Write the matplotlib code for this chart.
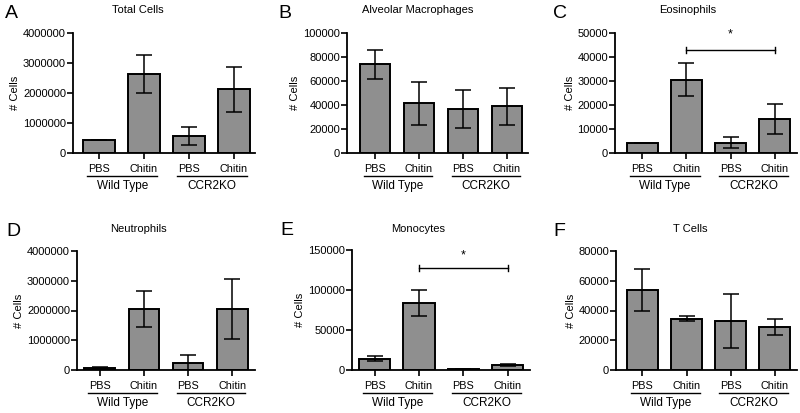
import numpy as np
import matplotlib
matplotlib.use('Agg')
import matplotlib.pyplot as plt

plt.rcParams['font.family'] = ['Liberation Sans', 'DejaVu Sans']

# --- data ---
conditions = ['PBS', 'Chitin', 'PBS', 'Chitin']
groups = ['Wild Type', 'CCR2KO']

total_mean = [450000, 2640000, 570000, 2130000]
total_err = [0, 630000, 290000, 750000]

am_mean = [73900, 41300, 36500, 38800]
am_err = [12300, 18000, 15600, 15400]

eos_mean = [4350, 30600, 4350, 14200]
eos_err = [0, 7000, 2400, 6200]

neut_mean = [80000, 2050000, 225000, 2050000]
neut_err = [30000, 600000, 295000, 1000000]

mono_mean = [14200, 84000, 1250, 6300]
mono_err = [3300, 16000, 300, 700]

tcell_mean = [53600, 34500, 32900, 29100]
tcell_err = [14200, 1500, 18000, 5300]

panels = [
    ('A', 'Total Cells', total_mean, total_err, 4000000, 1000000, None),
    ('B', 'Alveolar Macrophages', am_mean, am_err, 100000, 20000, None),
    ('C', 'Eosinophils', eos_mean, eos_err, 50000, 10000, (42800, 49500)),
    ('D', 'Neutrophils', neut_mean, neut_err, 4000000, 1000000, None),
    ('E', 'Monocytes', mono_mean, mono_err, 150000, 50000, (127500, 143000)),
    ('F', 'T Cells', tcell_mean, tcell_err, 80000, 20000, None),
]

# axes boxes in pixels: left, top, right, bottom ; xlim
boxes = [
    (73, 33, 255, 153, -0.58, 3.47),
    (347, 33, 528, 153, -0.64, 3.48),
    (615, 33, 797, 153, -0.61, 3.5),
    (77, 251, 255, 370, -0.52, 3.52),
    (352, 250, 530, 370, -0.51, 3.5),
    (616, 251, 797, 370, -0.6, 3.5),
]
letter_pos = [(5, 14), (278, 14), (553, 14), (6, 232), (280, 230), (553, 232)]
title_x = [138, 418, 688, 138, 418, 690]
title_y = [10, 10, 10, 229, 229, 229]

W, H = 800, 413
fig = plt.figure(figsize=(8, 4.13), dpi=100)
x = np.arange(4)

for i, (letter, title, mean, err, ymax, ystep, sig) in enumerate(panels):
    l, t, r, b, x0, x1 = boxes[i]
    ax = fig.add_axes([l / W, 1 - b / H, (r - l) / W, (b - t) / H])
    ax.bar(x, mean, width=0.7, color='#8f8f8f', edgecolor='black',
           linewidth=1.4, zorder=2)
    ax.errorbar(x, mean, yerr=err, fmt='none', ecolor='black',
                elinewidth=1.1, capsize=6, capthick=1.1, zorder=3)
    ax.set_xlim(x0, x1)
    ax.set_ylim(0, ymax)
    yt = np.arange(0, ymax + 1, ystep)
    ax.set_yticks(yt)
    ax.set_yticklabels([str(int(v)) for v in yt])
    ax.set_xticks(x)
    ax.set_xticklabels([])
    ax.spines['top'].set_visible(False)
    ax.spines['right'].set_visible(False)
    ax.spines['left'].set_linewidth(1.3)
    ax.spines['bottom'].set_linewidth(1.3)
    ax.tick_params(axis='y', labelsize=8, length=4, width=1.2, pad=1)
    ax.tick_params(axis='x', length=4, width=1.2)
    ax.set_ylabel('# Cells', fontsize=8, labelpad=2)

    # x labels and group lines
    trans = ax.get_xaxis_transform()
    for j, c in enumerate(conditions):
        ax.text(x[j], -0.135, c, transform=trans, ha='center', va='center',
                fontsize=7.8, clip_on=False)
    for g, name in enumerate(groups):
        gx0 = 2 * g - 0.26
        gx1 = 2 * g + 1.3
        ax.plot([gx0, gx1], [-0.19, -0.19], transform=trans, color='black',
                lw=1.0, clip_on=False)
        ax.text((gx0 + gx1) / 2, -0.275, name, transform=trans, ha='center',
                va='center', fontsize=8.5, clip_on=False)

    if sig is not None:
        ys, ystar = sig
        ax.plot([1, 3], [ys, ys], color='black', lw=1.0, clip_on=False)
        tick = ymax * 0.025
        for xx in (1, 3):
            ax.plot([xx, xx], [ys - tick, ys + tick], color='black', lw=1.0,
                    clip_on=False)
        ax.text(2, ystar, '*', ha='center', va='center', fontsize=9,
                clip_on=False)

    fig.text(title_x[i] / W, 1 - title_y[i] / H, title, ha='center',
             va='center', fontsize=8)
    lx, ly = letter_pos[i]
    fig.text(lx / W, 1 - ly / H, letter, ha='left', va='center', fontsize=14)

fig.savefig('out.png', dpi=100, facecolor='white')
